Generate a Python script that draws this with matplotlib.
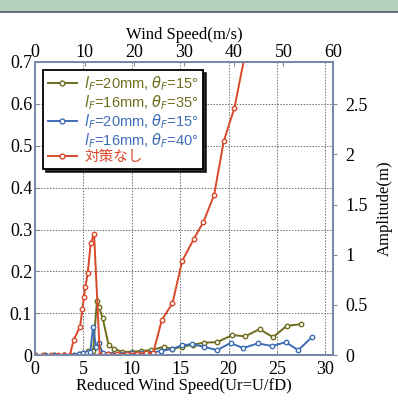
import matplotlib.pyplot as plt
from matplotlib.patches import Rectangle
from matplotlib.lines import Line2D

# reduced wind speed / amplitude
x_red = [0, 0.8, 1.6, 2.4, 3.0, 3.6, 4.0, 4.65, 4.9, 5.05, 5.2, 5.45, 5.75, 6.1, 6.7,
         7.5, 8.5, 9.5, 10.5, 11.5, 12.2, 13.1, 14.2, 15.2, 16.4, 17.4, 18.5, 19.5, 20.6, 21.8]
y_red = [0, 0, 0, 0, 0, 0, 0.037, 0.068, 0.11, 0.14, 0.163, 0.197, 0.267, 0.29, 0.0,
         0.002, 0.003, 0.003, 0.004, 0.005, 0.005, 0.084, 0.124, 0.225, 0.277, 0.318, 0.382, 0.511, 0.59, 0.73]

x_olive = [0, 1, 2, 3, 4, 4.5, 5, 5.5, 6.0, 6.4, 6.6, 7.0, 7.6, 8.2, 9, 10, 11, 12,
           13.3, 14.2, 15.2, 16.3, 17.5, 18.8, 20.4, 21.7, 23.2, 24.6, 26.0, 27.5]
y_olive = [0, 0, 0, 0, 0, 0.003, 0.005, 0.01, 0.01, 0.13, 0.115, 0.088, 0.024, 0.015, 0.008, 0.008, 0.01, 0.012,
           0.02, 0.015, 0.02, 0.025, 0.03, 0.031, 0.048, 0.045, 0.062, 0.043, 0.07, 0.074]

x_blue = [0, 1, 2, 3, 4, 4.5, 5, 5.4, 5.7, 6.0, 6.3, 6.6, 7, 7.5, 8, 9, 10, 11, 12, 13,
          14.2, 15.2, 16.2, 17.5, 18.8, 20.2, 21.5, 23.0, 24.5, 25.9, 27.2, 28.6]
y_blue = [0, 0, 0, 0, 0, 0.003, 0.005, 0.005, 0.007, 0.068, 0.02, 0.028, 0.005, 0.003, 0.003, 0.003,
          0.005, 0.005, 0.006, 0.01, 0.015, 0.024, 0.026, 0.02, 0.012, 0.029, 0.017, 0.028, 0.022, 0.031, 0.012, 0.043]

left_ticks = [0, 0.1, 0.2, 0.3, 0.4, 0.5, 0.6, 0.7]
left_labels = ['0', '0.1', '0.2', '0.3', '0.4', '0.5', '0.6', '0.7']
right_ticks = [0, 0.5, 1, 1.5, 2, 2.5]
right_labels = ['0', '0.5', '1', '1.5', '2', '2.5']
top_ticks = [0, 10, 20, 30, 40, 50, 60]

labels = [r'$l_F$=20mm, $\theta_F$=15°', r'$l_F$=16mm, $\theta_F$=35°',
          r'$l_F$=20mm, $\theta_F$=15°', r'$l_F$=16mm, $\theta_F$=40°', '対策なし']

c_red = '#d8482a'
c_olive = '#6e6e1e'
c_blue = '#3d6db5'
c_spine = '#7888a8'

plt.rcParams['font.family'] = ['Liberation Serif', 'Noto Sans CJK JP']
plt.rcParams['mathtext.fontset'] = 'dejavusans'

fig = plt.figure(figsize=(3.98, 4.05), dpi=100)
fig.add_artist(Rectangle((0, 0.972), 1, 0.028, transform=fig.transFigure,
                         color='#b4d2bf', zorder=0))
fig.add_artist(Line2D([0, 1], [0.970, 0.970], transform=fig.transFigure, color='#556', lw=1.2))

ax = fig.add_axes([0.088, 0.123, 0.749, 0.724])
mk = dict(marker='o', markersize=3.2, markerfacecolor='white', lw=1.4)
ax.plot(x_olive, y_olive, color=c_olive, markeredgecolor=c_olive, zorder=3, **mk)
ax.plot(x_blue, y_blue, color=c_blue, markeredgecolor=c_blue, zorder=4, **mk)
ax.plot(x_red, y_red, color=c_red, markeredgecolor=c_red, zorder=5, **mk)

ax.set_xlim(0, 30.8)
ax.set_ylim(0, 0.7)
ax.set_xticks([0, 5, 10, 15, 20, 25, 30])
ax.set_yticks(left_ticks)
ax.set_yticklabels(left_labels)
ax.tick_params(labelsize=13, direction='in', length=3, color=c_spine, pad=4)
ax.tick_params(axis='y', pad=2)
ax.grid(True, ls=(0, (1.5, 1.5)), color='#707070', lw=0.7)
ax.set_xlabel('Reduced Wind Speed(Ur=U/fD)', fontsize=12, labelpad=0)
for s in ax.spines.values():
    s.set_color(c_spine)
    s.set_linewidth(1.2)

axt = ax.twiny()
axt.set_xlim(0, 60)
axt.set_xticks(top_ticks)
axt.tick_params(labelsize=13, direction='in', length=3, color=c_spine, pad=1)
axt.set_xlabel('Wind Speed(m/s)', fontsize=12, labelpad=3)

axr = ax.twinx()
axr.set_ylim(0, 2.92)
axr.set_yticks(right_ticks)
axr.set_yticklabels(right_labels)
axr.tick_params(labelsize=13, direction='out', length=3, color=c_spine, pad=6)
axr.set_ylabel('Amplitude(m)', fontsize=12, labelpad=6)
for a in (axt, axr):
    for s in a.spines.values():
        s.set_color(c_spine)
        s.set_linewidth(1.2)

hdl = dict(marker='o', markersize=3.5, markerfacecolor='white', lw=1.4)
handles = [Line2D([], [], color=c_olive, markeredgecolor=c_olive, **hdl),
           Line2D([], [], color='none'),
           Line2D([], [], color=c_blue, markeredgecolor=c_blue, **hdl),
           Line2D([], [], color='none'),
           Line2D([], [], color=c_red, markeredgecolor=c_red, **hdl)]
leg = axr.legend(handles, labels, loc='upper left', bbox_to_anchor=(0.003, 0.997),
                 prop={'family': ['Liberation Sans', 'Noto Sans CJK JP'], 'size': 10.5},
                 labelcolor=[c_olive, c_olive, c_blue, c_blue, c_red],
                 handlelength=2.0, handletextpad=0.5, labelspacing=0.02,
                 borderpad=0.3, fancybox=False, shadow={'ox': 2, 'oy': -2, 'color': 'black', 'alpha': 0.8},
                 framealpha=1)
leg.get_frame().set_edgecolor('black')
leg.get_frame().set_linewidth(1.3)

fig.savefig('out.png', dpi=100)
